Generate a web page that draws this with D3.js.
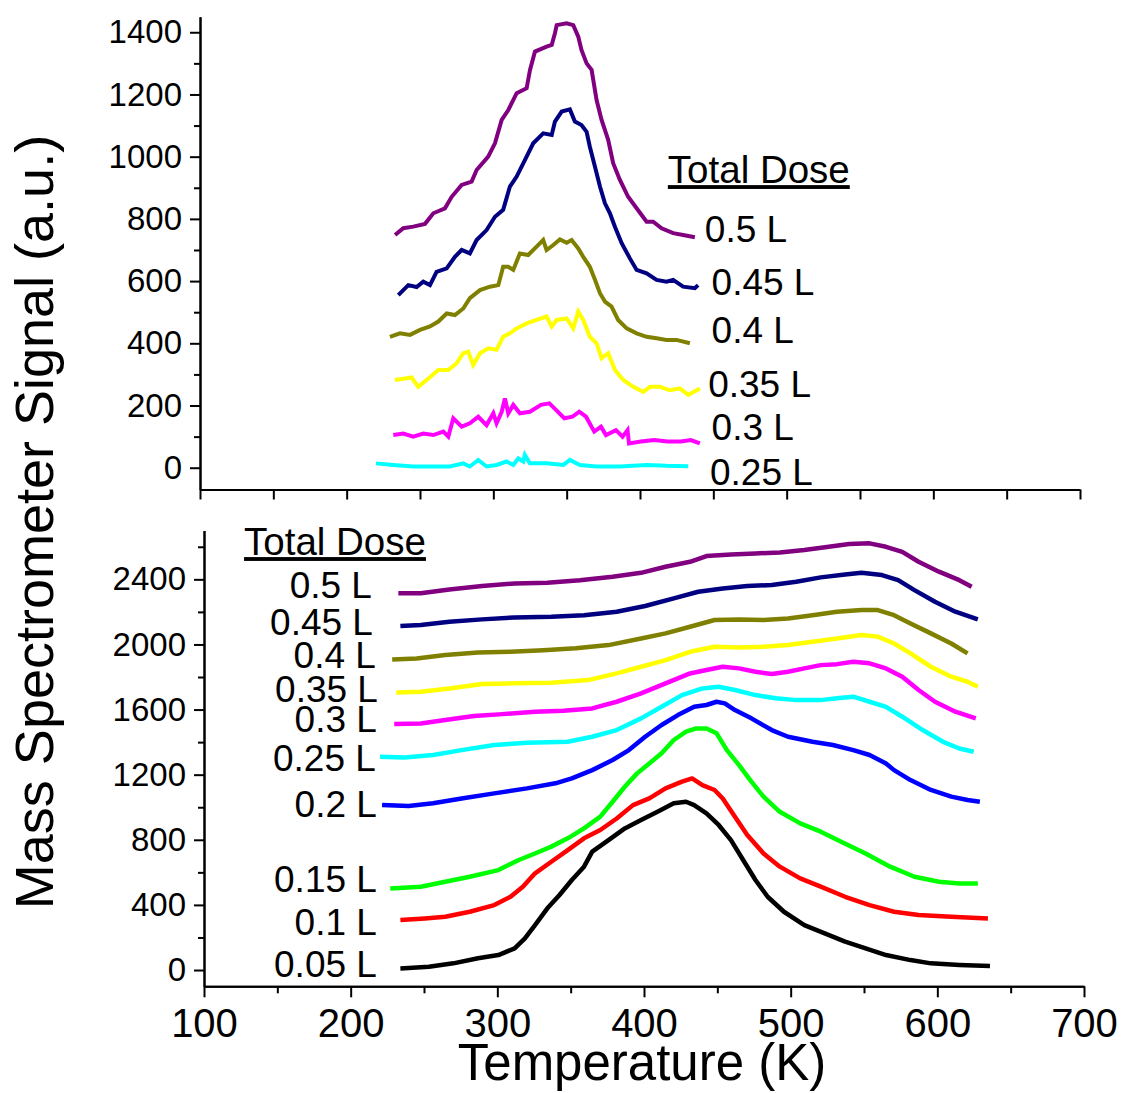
<!DOCTYPE html>
<html>
<head>
<meta charset="utf-8">
<script src="https://cdn.jsdelivr.net/npm/d3@7"></script>
<style>
  body { margin: 0; background: #fff; }
  svg text { font-family: "Liberation Sans", Arial, Helvetica, sans-serif; fill: #000; }
</style>
</head>
<body>
<script>
// top panel series, [temperature K, signal]
var top050 = [[233,748],[238.6,770],[245.4,775],[253.4,784],[259.1,818],[267,834],[271.6,871],[278.4,909],[285.2,920],[288.6,957],[296.5,1000],[301.1,1043],[305.7,1118],[310.2,1150],[315.9,1204],[322.7,1220],[325,1279],[328.4,1338],[336.3,1354],[339.8,1359],[342,1397],[343.2,1423],[350,1429],[354.5,1423],[357.9,1386],[360.1,1343],[363.6,1300],[367,1279],[370.4,1182],[373.8,1118],[378.3,1054],[381.7,979],[386.3,925],[391.9,871],[397.7,834],[404.5,791],[409,791],[414.7,770],[422.6,754],[429.4,748],[437.4,741]];
var top045 = [[235.2,555],[242,587],[247.7,581],[252.2,598],[256.8,587],[261.3,630],[268.2,641],[273.8,678],[278.4,700],[284,689],[288.6,732],[295.4,764],[301.1,807],[306.7,829],[311.3,904],[315.9,936],[321.5,989],[327.2,1043],[334,1075],[339.8,1070],[342,1113],[346.6,1145],[352.2,1152],[355.6,1113],[360.1,1102],[363.6,1080],[365.8,1032],[369.3,968],[372.7,904],[376.1,850],[379.5,818],[382.9,775],[387.5,722],[393.1,673],[397.7,636],[404.5,625],[411.3,604],[418.1,598],[422.6,604],[429.4,582],[437.4,577],[439.6,587]];
var top040 = [[229.5,421],[236.3,432],[243.2,427],[250,443],[256.8,454],[262.5,470],[268.2,496],[273.8,491],[279.5,512],[284,545],[290.9,571],[297.7,582],[303.4,587],[306.7,646],[310.2,646],[313.6,636],[318.1,689],[323.8,684],[329.5,711],[334,732],[336.3,700],[340.9,716],[345.4,734],[350,723],[353.4,732],[357.9,705],[361.3,678],[365.8,646],[369.3,604],[372.7,561],[376.1,534],[380.6,518],[385.1,475],[390.9,448],[397.7,432],[404.5,421],[411.3,416],[418.1,411],[424.9,411],[434,400]];
var top035 = [[232.9,282],[239.8,287],[244.3,290],[248.8,260],[254.5,282],[262.5,314],[269.3,314],[275,336],[279.5,368],[282.9,373],[286.3,330],[290.9,368],[296.5,384],[302.2,379],[306.7,421],[311.3,432],[315.9,448],[322.7,464],[329.5,475],[336.3,486],[339.8,454],[343.2,475],[350,480],[354.5,448],[357.9,502],[361.3,475],[365.8,421],[370.4,400],[373.8,352],[378.3,368],[382.9,314],[388.6,282],[395.4,260],[402.2,244],[406.8,260],[413.6,260],[420.4,249],[427.2,255],[432.9,234],[440.8,255]];
var top030 = [[231.8,105],[238.6,110],[245.4,100],[252.2,110],[259.1,105],[265.9,116],[269.3,100],[272.7,159],[278.4,132],[284,143],[289.7,164],[295.4,137],[300,175],[302.2,143],[305.7,180],[307.9,223],[310.2,175],[313.6,202],[318.1,175],[324.9,180],[332.5,202],[338.2,207],[342.7,186],[348.4,159],[354,164],[358.6,180],[363.2,164],[368.8,116],[373.4,132],[376.8,105],[383.6,121],[388.1,100],[391.5,121],[392.5,78],[400.6,84],[409.7,89],[418.8,84],[427.9,84],[434.7,89],[440.8,78]];
var top025 = [[220,14],[231.8,9],[245.4,4],[259,4],[270.4,4],[279.5,14],[284,4],[289.7,25],[295.4,4],[302.2,9],[309,20],[313.6,9],[317,30],[320.4,20],[321.5,41],[324.9,14],[336.3,14],[347.7,9],[352.2,25],[359,9],[370.4,4],[386.3,4],[404.5,9],[418.1,6],[432.9,5]];

// bottom panel series
var bot050 = [[232.5,2314],[247.8,2314],[267.3,2338],[289.6,2359],[311.8,2375],[334.1,2379],[356.3,2395],[378.6,2416],[398,2440],[414.7,2477],[431.4,2508],[442.6,2543],[459.3,2553],[476,2559],[492.6,2565],[509.3,2580],[526,2600],[539.9,2617],[553.8,2621],[565,2600],[576.1,2569],[587.2,2508],[601.1,2447],[615,2395],[623.4,2354]];
var bot045 = [[233.9,2113],[247.8,2119],[267.3,2139],[289.6,2154],[311.8,2166],[336.8,2170],[359.1,2180],[381.4,2201],[400.8,2236],[420.3,2283],[437,2324],[453.7,2344],[470.4,2359],[487.1,2365],[503.8,2385],[520.5,2412],[537.1,2430],[548.3,2440],[562.2,2426],[573.3,2395],[584.4,2334],[598.4,2262],[612.3,2201],[627.6,2154]];
var bot040 = [[228.3,1908],[245,1914],[264.5,1935],[286.8,1951],[309,1955],[331.3,1965],[353.5,1976],[375.8,1996],[398,2037],[414.7,2068],[431.4,2109],[448.1,2150],[464.8,2154],[481.5,2150],[498.2,2160],[514.9,2180],[531.6,2201],[548.3,2211],[559.4,2211],[570.5,2180],[581.7,2129],[595.6,2068],[609.5,2006],[620.6,1945]];
var bot035 = [[231.1,1705],[247.8,1710],[267.3,1730],[289.6,1757],[311.8,1761],[336.8,1765],[361.9,1781],[381.4,1822],[398,1863],[414.7,1904],[431.4,1955],[448.1,1986],[464.8,1982],[481.5,1986],[498.2,1996],[514.9,2017],[531.6,2037],[548.3,2058],[559.4,2048],[570.5,2006],[581.7,1945],[595.6,1863],[609.5,1802],[620.6,1771],[627.6,1740]];
var bot030 = [[229.7,1511],[247.8,1515],[264.5,1536],[284,1560],[303.5,1572],[325.7,1587],[345.2,1593],[364.7,1607],[381.4,1648],[398,1699],[414.7,1761],[431.4,1822],[442.6,1843],[453.7,1863],[464.8,1853],[476,1832],[487.1,1818],[498.2,1832],[509.3,1853],[520.5,1873],[531.6,1879],[542.7,1894],[553.8,1884],[565,1853],[576.1,1802],[587.2,1720],[598.4,1648],[612.3,1587],[626.2,1546]];
var bot025 = [[220,1310],[236.7,1306],[256.2,1321],[275.6,1351],[297.9,1382],[320.2,1396],[348,1402],[364.7,1433],[381.4,1474],[398,1546],[412,1617],[425.9,1689],[439.8,1730],[450.9,1740],[462,1720],[476,1689],[489.9,1669],[503.8,1658],[520.5,1658],[531.6,1669],[542.7,1679],[553.8,1648],[565,1617],[576.1,1556],[590,1474],[603.9,1402],[615,1361],[624.8,1341]];
var bot020 = [[221.4,1013],[239.5,1007],[256.2,1024],[275.6,1054],[297.9,1085],[320.2,1116],[339.6,1147],[350.8,1177],[364.7,1228],[378.6,1290],[389.7,1351],[400.8,1433],[412,1505],[423.1,1566],[434.2,1617],[442.6,1628],[449.5,1648],[455.1,1638],[462,1597],[473.2,1546],[487.1,1474],[498.2,1433],[514.9,1402],[528.8,1382],[542.7,1351],[553.8,1321],[565,1269],[570.5,1228],[581.7,1167],[595.6,1106],[609.5,1065],[620.6,1044],[629,1034]];
var bot015 = [[227,501],[247.8,512],[264.5,542],[281.2,573],[300.7,614],[314.6,676],[325.7,716],[336.8,758],[348,809],[359.1,870],[370.2,942],[378.6,1034],[386.9,1126],[395.3,1208],[403.6,1269],[412,1331],[420.3,1413],[428.7,1464],[435.6,1484],[442.6,1484],[449.5,1454],[456.5,1351],[464.8,1259],[473.2,1157],[481.5,1065],[492.6,972],[506.5,901],[520.5,850],[534.4,788],[551.1,716],[567.8,635],[584.4,573],[601.1,542],[615,532],[627.6,532]];
var bot010 = [[233.9,307],[250.6,317],[264.5,327],[281.2,358],[297.9,399],[309,450],[317.4,512],[325.7,594],[336.8,665],[348,737],[359.1,809],[370.2,860],[381.4,931],[392.5,1013],[403.6,1054],[414.7,1116],[425.9,1157],[432.8,1177],[439.8,1136],[448.1,1106],[453.7,1054],[462,942],[470.4,829],[481.5,716],[492.6,635],[506.5,563],[520.5,512],[537.1,450],[553.8,399],[570.5,358],[587.2,338],[609.5,327],[634.5,317]];
var bot005 = [[233.9,10],[253.4,20],[270,41],[286.8,72],[300.7,92],[311.8,133],[318.8,194],[325.7,276],[334.1,379],[342.4,461],[350.8,553],[359.1,635],[364.7,727],[375.8,798],[386.9,870],[398,921],[409.2,972],[420.3,1024],[428.7,1034],[434.2,1013],[442.6,962],[450.9,891],[459.3,798],[467.6,676],[476,553],[484.3,450],[495.4,358],[509.3,276],[523.2,225],[537.1,174],[551.1,133],[565,92],[581.7,61],[595.6,41],[615,31],[635.9,24]];

var topSeries = [top050, top045, top040, top035, top030, top025];
var topLabels = ["0.5 L", "0.45 L", "0.4 L", "0.35 L", "0.3 L", "0.25 L"];
var botSeries = [bot050, bot045, bot040, bot035, bot030, bot025, bot020, bot015, bot010, bot005];
var botLabels = ["0.5 L", "0.45 L", "0.4 L", "0.35 L", "0.3 L", "0.25 L", "0.2 L", "0.15 L", "0.1 L", "0.05 L"];

var xTicks = [100, 200, 300, 400, 500, 600, 700];
var topYTicks = [0, 200, 400, 600, 800, 1000, 1200, 1400];
var botYTicks = [0, 400, 800, 1200, 1600, 2000, 2400];

function init() {
    var w = 1122;
    var h = 1093;

    var topColors = ["#800080", "#000080", "#808000", "#ffff00", "#ff00ff", "#00ffff"];
    var botColors = ["#800080", "#000080", "#808000", "#ffff00", "#ff00ff", "#00ffff", "#0000ff", "#00ff00", "#ff0000", "#000000"];

    var fmt = d3.format("d");

    var svg = d3.select("body")
        .append("svg")
        .attr("width", w)
        .attr("height", h);

    // scales
    var xTop = d3.scaleLinear().domain([100, 700]).range([200, 1080]);
    var yTop = d3.scaleLinear().domain([-70, 1450]).range([489.5, 16.7]);
    var xBot = d3.scaleLinear().domain([100, 700]).range([204, 1084]);
    var yBot = d3.scaleLinear().domain([-100, 2700]).range([986.3, 530.5]);

    function styleAxis(g, fontSize) {
        g.select(".domain").attr("stroke", "#000").attr("stroke-width", 2);
        g.selectAll(".tick line").attr("stroke", "#000").attr("stroke-width", 2);
        g.selectAll(".tick text").style("font-size", fontSize + "px").attr("fill", "#000");
    }

    // ---- top panel axes
    var gTopX = svg.append("g").attr("transform", "translate(0," + yTop(-70) + ")")
        .call(d3.axisBottom(xTop).tickValues(d3.range(100, 701, 50)).tickSize(10).tickSizeOuter(0).tickFormat(""));
    styleAxis(gTopX, 40);

    svg.append("g").attr("transform", "translate(" + xTop(100) + ",0)")
        .call(d3.axisLeft(yTop).tickValues(d3.range(100, 1400, 200)).tickSize(6).tickSizeOuter(0).tickFormat(""))
        .call(function(g) { styleAxis(g, 33); });
    var gTopY = svg.append("g").attr("transform", "translate(" + xTop(100) + ",0)")
        .call(d3.axisLeft(yTop).tickValues(topYTicks).tickSize(10).tickPadding(8).tickSizeOuter(0).tickFormat(fmt));
    styleAxis(gTopY, 33);

    // ---- bottom panel axes
    svg.append("g").attr("transform", "translate(0," + yBot(-100) + ")")
        .call(d3.axisBottom(xBot).tickValues(d3.range(150, 700, 100)).tickSize(7).tickSizeOuter(0).tickFormat(""))
        .call(function(g) { styleAxis(g, 40); });
    var gBotX = svg.append("g").attr("transform", "translate(0," + yBot(-100) + ")")
        .call(d3.axisBottom(xBot).tickValues(xTicks).tickSize(11).tickPadding(11).tickSizeOuter(0).tickFormat(fmt));
    styleAxis(gBotX, 40);

    svg.append("g").attr("transform", "translate(" + xBot(100) + ",0)")
        .call(d3.axisLeft(yBot).tickValues(d3.range(200, 2700, 400)).tickSize(6).tickSizeOuter(0).tickFormat(""))
        .call(function(g) { styleAxis(g, 33); });
    var gBotY = svg.append("g").attr("transform", "translate(" + xBot(100) + ",0)")
        .call(d3.axisLeft(yBot).tickValues(botYTicks).tickSize(10).tickPadding(8).tickSizeOuter(0).tickFormat(fmt));
    styleAxis(gBotY, 33);

    // ---- curves
    var lineTop = d3.line().x(function(d) { return xTop(d[0]); }).y(function(d) { return yTop(d[1]); });
    var lineBot = d3.line().x(function(d) { return xBot(d[0]); }).y(function(d) { return yBot(d[1]); });

    svg.append("g").selectAll("path")
        .data(topSeries)
        .enter()
        .append("path")
        .attr("d", lineTop)
        .attr("fill", "none")
        .attr("stroke", function(d, i) { return topColors[i]; })
        .attr("stroke-width", 4)
        .attr("stroke-linejoin", "miter");

    svg.append("g").selectAll("path")
        .data(botSeries)
        .enter()
        .append("path")
        .attr("d", lineBot)
        .attr("fill", "none")
        .attr("stroke", function(d, i) { return botColors[i]; })
        .attr("stroke-width", 4.5)
        .attr("stroke-linejoin", "round");

    // ---- labels (anchor positions in data units)
    var topLabelAt = [[444.2, 727], [448.8, 555], [448.8, 400], [446.5, 228], [448.8, 89], [447.7, -56]];
    var botLabelAt = [[214.5, 2283], [215.2, 2058], [217.2, 1855], [218.6, 1648], [217.9, 1464], [217.2, 1224], [217.9, 942], [217.9, 481], [217.9, 215], [217.9, -41]];

    svg.append("g").selectAll("text")
        .data(topLabels)
        .enter()
        .append("text")
        .attr("x", function(d, i) { return xTop(topLabelAt[i][0]); })
        .attr("y", function(d, i) { return yTop(topLabelAt[i][1]); })
        .style("font-size", "37px")
        .text(function(d) { return d; });

    svg.append("g").selectAll("text")
        .data(botLabels)
        .enter()
        .append("text")
        .attr("x", function(d, i) { return xBot(botLabelAt[i][0]); })
        .attr("y", function(d, i) { return yBot(botLabelAt[i][1]); })
        .style("font-size", "37px")
        .style("text-anchor", "end")
        .text(function(d) { return d; });

    svg.append("text")
        .attr("x", xTop(419)).attr("y", yTop(915))
        .style("font-size", "38.5px")
        .style("text-decoration", "underline")
        .text("Total Dose");
    svg.append("text")
        .attr("x", xBot(127.3)).attr("y", yBot(2549))
        .style("font-size", "38.5px")
        .style("text-decoration", "underline")
        .text("Total Dose");

    // ---- axis titles
    svg.append("text")
        .attr("x", 642).attr("y", 1080)
        .style("font-size", "51px")
        .style("text-anchor", "middle")
        .text("Temperature (K)");

    svg.append("text")
        .attr("transform", "translate(53,522) rotate(-90)")
        .style("font-size", "54px")
        .style("text-anchor", "middle")
        .text("Mass Spectrometer Signal (a.u.)");
}
window.onload = init;
</script>
</body>
</html>
